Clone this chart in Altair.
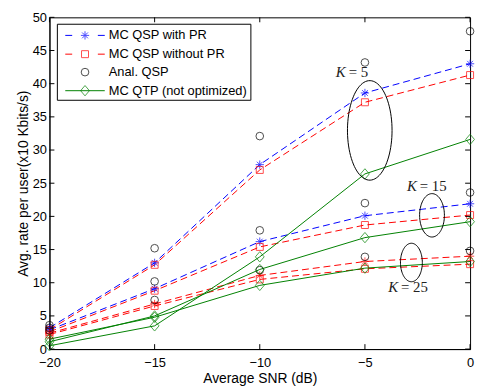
import altair as alt
import numpy as np
import pandas as pd

# ---------------- data ----------------
snr = [-20, -15, -10, -5, 0]
K_values = [5, 15, 25]

mc_qsp_with_pr = {
    5: [3.2, 13.0, 27.8, 38.6, 43.0],
    15: [2.9, 9.1, 16.2, 20.1, 21.9],
    25: [2.4, 6.8, 11.1, 13.2, 14.0],
}
mc_qsp_without_pr = {
    5: [2.9, 12.7, 27.0, 37.2, 41.3],
    15: [2.6, 8.8, 15.4, 18.7, 20.2],
    25: [2.2, 6.5, 10.5, 12.1, 12.8],
}
anal_qsp = {
    5: [3.6, 15.2, 32.1, 43.2, 47.9],
    15: [3.2, 10.2, 17.9, 22.0, 23.6],
    25: [2.8, 7.4, 11.9, 13.9, 14.8],
}
mc_qtp = {
    5: [0.5, 3.5, 13.9, 26.4, 31.6],
    15: [1.1, 5.0, 12.0, 16.8, 19.2],
    25: [1.5, 4.8, 9.6, 12.2, 13.2],
}
# colour of the "with PR" series per K (K=25 appears red in the reference)
with_pr_colors = {5: "#0000FF", 15: "#0000FF", 25: "#FF0000"}

x_ticks = [-20, -15, -10, -5, 0]
y_ticks = [0, 5, 10, 15, 20, 25, 30, 35, 40, 45, 50]

# ellipse annotations (centre / radii in data units)
ell_K = [5, 15, 25]
ell_cx = [-4.77, -1.81, -2.79]
ell_cy = [32.96, 20.16, 13.05]
ell_rx = [1.06, 0.59, 0.52]
ell_ry = [7.5, 3.27, 2.9]

# K labels
lab_split_x = [-5.82, -2.44, -3.33]
lab_y = [41.7, 24.6, 9.4]
lab_rest = ["= 5", "= 15", "= 25"]

legend_labels = ["MC QSP with PR", "MC QSP without PR", "Anal. QSP", "MC QTP (not optimized)"]
legend_colors = ["#0000FF", "#FF0000", "#000000", "#008000"]
legend_dashed = [True, True, None, False]

BLUE, RED, GREEN, BLACK = "#0000FF", "#FF0000", "#008000", "#000000"
STAR = "M-1,0L1,0M0,-1L0,1M-0.7,-0.7L0.7,0.7M-0.7,0.7L0.7,-0.7"
DIAM = "M0,-1L0.85,0L0,1L-0.85,0Z"
FONT = "Liberation Sans"

W, H = 426, 336


def long_df(d, colors=None, default=BLACK):
    rows = []
    for k in K_values:
        for s, v in zip(snr, d[k]):
            rows.append({"snr": s, "val": v, "K": k,
                         "color": (colors[k] if colors else default)})
    return pd.DataFrame(rows)


df_with = long_df(mc_qsp_with_pr, with_pr_colors)
df_without = long_df(mc_qsp_without_pr, default=RED)
df_anal = long_df(anal_qsp)
df_qtp = long_df(mc_qtp, default=GREEN)

xs = alt.Scale(domain=[-20, 0], nice=False, zero=False)
ys = alt.Scale(domain=[0, 50], nice=False)

X = alt.X("snr:Q", scale=xs, title="Average SNR (dB)",
          axis=alt.Axis(values=x_ticks, format="d", labelFlush=False))
Y = alt.Y("val:Q", scale=ys, title="Avg. rate per user(x10 Kbits/s)",
          axis=alt.Axis(values=y_ticks, format="d", labelFlush=False))

col = alt.Color("color:N", scale=None)

line_with = alt.Chart(df_with).mark_line(strokeDash=[7, 4], strokeWidth=1).encode(
    x=X, y=Y, color=col, detail="K:N")
line_without = alt.Chart(df_without).mark_line(strokeDash=[7, 4], strokeWidth=1).encode(
    x=X, y=Y, color=col, detail="K:N")
line_qtp = alt.Chart(df_qtp).mark_line(strokeWidth=1, color=GREEN).encode(
    x=X, y=Y, detail="K:N")

pt_with = alt.Chart(df_with).mark_point(shape=STAR, size=70, filled=False, strokeWidth=1).encode(
    x=X, y=Y, color=col)
pt_without = alt.Chart(df_without).mark_point(shape="square", size=50, filled=False, strokeWidth=1, color=RED).encode(
    x=X, y=Y)
pt_anal = alt.Chart(df_anal).mark_point(shape="circle", size=60, filled=False, strokeWidth=1, color=BLACK).encode(
    x=X, y=Y)
pt_qtp = alt.Chart(df_qtp).mark_point(shape=DIAM, size=110, filled=False, strokeWidth=1, color=GREEN).encode(
    x=X, y=Y)

# ellipses
erows = []
theta = np.linspace(0, 2 * np.pi, 90)
for k, cx, cy, rx, ry in zip(ell_K, ell_cx, ell_cy, ell_rx, ell_ry):
    for i, t in enumerate(theta):
        erows.append({"K": k, "ord": i, "snr": cx + rx * np.cos(t), "val": cy + ry * np.sin(t)})
df_ell = pd.DataFrame(erows)
ellipses = alt.Chart(df_ell).mark_line(color=BLACK, strokeWidth=1).encode(
    x=X, y=Y, detail="K:N", order="ord:Q")

df_lab = pd.DataFrame({"snr": lab_split_x, "val": lab_y, "rest": lab_rest})
lab_k = alt.Chart(df_lab).mark_text(text="K", font="Liberation Serif", fontStyle="italic",
                                    fontSize=15, align="right", baseline="middle", color="#222222", dx=-2).encode(
    x=X, y=Y)
lab_r = alt.Chart(df_lab).mark_text(font="Liberation Serif", fontSize=15, align="left",
                                    baseline="middle", color="#222222", dx=1).encode(
    x=X, y=Y, text="rest:N")

# inward ticks on all four sides
dfx = pd.DataFrame({"snr": x_ticks})
dfy = pd.DataFrame({"val": y_ticks})
tick_b = alt.Chart(dfx).mark_rule(color=BLACK).encode(x=X, y=alt.value(H), y2=alt.value(H - 5))
tick_t = alt.Chart(dfx).mark_rule(color=BLACK).encode(x=X, y=alt.value(0), y2=alt.value(5))
tick_l = alt.Chart(dfy).mark_rule(color=BLACK).encode(y=Y, x=alt.value(0), x2=alt.value(5))
tick_r = alt.Chart(dfy).mark_rule(color=BLACK).encode(y=Y, x=alt.value(W), x2=alt.value(W - 5))

# legend (drawn by hand, MATLAB style)
one = pd.DataFrame({"a": [0]})
leg_layers = [alt.Chart(one).mark_rect(fill="white", stroke=BLACK, strokeWidth=1).encode(
    x=alt.value(8), x2=alt.value(204), y=alt.value(7), y2=alt.value(84))]
leg_y = [18.3, 37.3, 55.5, 74.3]
leg_shapes = [STAR, "square", "circle", DIAM]
leg_sizes = [70, 50, 60, 110]
for lbl, c, dashed, yy, shp, sz in zip(legend_labels, legend_colors, legend_dashed, leg_y, leg_shapes, leg_sizes):
    if dashed is True:
        for a, b in [(16, 23), (49, 56)]:
            leg_layers.append(alt.Chart(one).mark_rule(color=c, strokeWidth=1).encode(
                x=alt.value(a), x2=alt.value(b), y=alt.value(yy)))
    elif dashed is False:
        leg_layers.append(alt.Chart(one).mark_rule(color=c, strokeWidth=1).encode(
            x=alt.value(16), x2=alt.value(56), y=alt.value(yy)))
    leg_layers.append(alt.Chart(one).mark_point(shape=shp, size=sz, filled=False, strokeWidth=1, color=c).encode(
        x=alt.value(36), y=alt.value(yy)))
    leg_layers.append(alt.Chart(one).mark_text(align="left", baseline="middle", font=FONT, fontSize=13,
                                               color=BLACK, text=lbl).encode(
        x=alt.value(60), y=alt.value(yy)))

chart = alt.layer(
    line_with, line_without, line_qtp,
    pt_with, pt_without, pt_anal, pt_qtp,
    ellipses, lab_k, lab_r,
    tick_b, tick_t, tick_l, tick_r,
    *leg_layers,
).properties(
    width=W, height=H,
    autosize=alt.AutoSizeParams(type="none"),
    padding={"left": 42, "top": 7, "right": 6, "bottom": 40},
).configure_view(
    stroke=BLACK, strokeWidth=1
).configure_axis(
    grid=False, domainColor=BLACK, domainWidth=1, tickSize=0, ticks=False,
    labelFont=FONT, labelFontSize=13, labelColor=BLACK,
    titleFont=FONT, titleFontSize=14, titleFontWeight="normal", titleColor=BLACK,
).configure_axisX(labelPadding=8, titlePadding=2
).configure_axisY(labelPadding=3, titlePadding=2)

chart.save("out.html", embed_options={"renderer": "svg", "actions": False})
